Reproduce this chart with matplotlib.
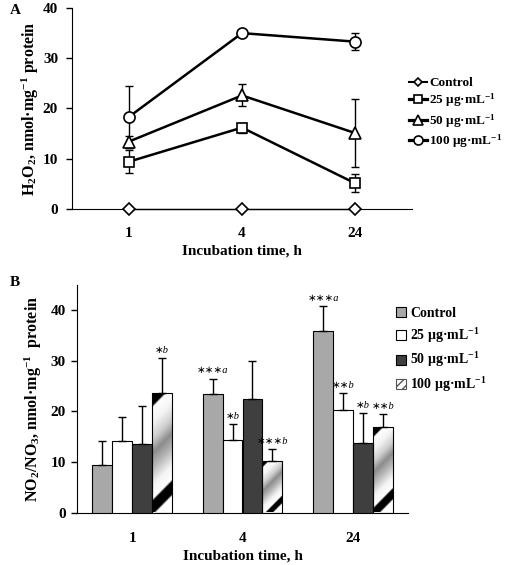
import matplotlib
matplotlib.use('Agg')
import matplotlib.pyplot as plt
import numpy as np
from matplotlib.lines import Line2D
from matplotlib.patches import Patch
from matplotlib.colors import LinearSegmentedColormap

plt.rcParams['font.family'] = ['Liberation Serif', 'DejaVu Serif']
plt.rcParams['font.weight'] = 'bold'
plt.rcParams['mathtext.default'] = 'regular'

# ---------------- data ----------------
times = ['1', '4', '24']
series_labels = ['Control', '25 μg·mL$^{-1}$', '50 μg·mL$^{-1}$', '100 μg·mL$^{-1}$']

# Panel A: H2O2
h2o2_control = [0.0, 0.0, 0.0]
h2o2_control_err = [0.0, 0.0, 0.0]
h2o2_25 = [9.4, 16.2, 5.1]
h2o2_25_err = [2.3, 1.0, 1.8]
h2o2_50 = [13.4, 22.6, 15.1]
h2o2_50_err = [1.2, 2.2, 6.7]
h2o2_100 = [18.3, 35.0, 33.3]
h2o2_100_err = [6.2, 0.3, 1.7]

# Panel B: NO2/NO3
no_control = [9.4, 23.4, 36.0]
no_control_err = [4.7, 3.1, 4.8]
no_25 = [14.1, 14.4, 20.3]
no_25_err = [4.8, 3.1, 3.3]
no_50 = [13.6, 22.5, 13.8]
no_50_err = [7.4, 7.5, 5.8]
no_100 = [23.6, 10.2, 16.9]
no_100_err = [7.0, 2.3, 2.5]

no_control_sig = ['', '∗∗∗a', '∗∗∗a']
no_25_sig = ['', '∗b', '∗∗b']
no_50_sig = ['', '', '∗b']
no_100_sig = ['∗b', '∗∗∗b', '∗∗b']

# ---------------- figure ----------------
W, H = 505, 565
fig = plt.figure(figsize=(W / 100, H / 100), dpi=100)

def fax(l, t, r, b):
    return fig.add_axes([l / W, 1 - b / H, (r - l) / W, (b - t) / H])

FS = 11

# ---------- Panel A ----------
axA = fax(72, 8, 412, 209)
x = np.arange(len(times))
a_series = [(h2o2_control, h2o2_control_err, 'D', 6, 1.0),
            (h2o2_25, h2o2_25_err, 's', 7.5, 1.8),
            (h2o2_50, h2o2_50_err, '^', 8.5, 1.8),
            (h2o2_100, h2o2_100_err, 'o', 8, 1.8)]
handlesA = []
for (vals, errs, mk, ms, lw), lab in zip(a_series, series_labels):
    axA.errorbar(x, vals, yerr=errs, fmt='none', ecolor='black', elinewidth=1.0,
                 capsize=3, capthick=1.0, zorder=2, clip_on=False)
    axA.plot(x, vals, '-', color='black', lw=lw, marker=mk, ms=ms,
             mfc='white', mec='black', mew=1.2, zorder=3, clip_on=False)
    handlesA.append(Line2D([0], [0], color='black', lw=lw + 0.5, marker=mk, ms=ms - 1.5,
                           mfc='white', mec='black', mew=1.2))
axA.set_xlim(-0.5, 2.5)
axA.set_ylim(0, 40)
axA.set_yticks([0, 10, 20, 30, 40])
axA.set_xticks(x)
axA.set_xticklabels(times)
axA.spines['top'].set_visible(False)
axA.spines['right'].set_visible(False)
axA.tick_params(axis='y', direction='out', length=4, width=1, pad=6, labelsize=FS)
axA.tick_params(axis='x', length=0, pad=13, labelsize=FS)
axA.set_xlabel('Incubation time, h', fontsize=FS, fontweight='bold', labelpad=3)
axA.set_ylabel('H$_2$O$_2$, nmol·mg$^{-1}$ protein', fontsize=11.5, fontweight='bold')
axA.yaxis.set_label_coords(-0.09, 0.5)
legA = axA.legend(handlesA, series_labels, loc='upper left',
                  bbox_to_anchor=(409 / W, 1 - 77 / H), bbox_transform=fig.transFigure,
                  frameon=False, fontsize=9.5, handlelength=1.4, handletextpad=0.15,
                  labelspacing=0.2, borderpad=0, borderaxespad=0)
fig.text(10 / W, 1 - 11 / H, 'A', fontsize=11, fontweight='bold', va='center', ha='left')

# ---------- Panel B ----------
axB = fax(77, 285, 408, 512.5)
axB.set_xlim(-0.5, 2.5)
axB.set_ylim(0, 45)
bw = 0.18
offsets = [-1.5 * bw, -0.5 * bw, 0.5 * bw, 1.5 * bw]
b_series = [(no_control, no_control_err, no_control_sig, '#a8a8a8'),
            (no_25, no_25_err, no_25_sig, 'white'),
            (no_50, no_50_err, no_50_sig, '#3f3f3f'),
            (no_100, no_100_err, no_100_sig, 'none')]

cm = LinearSegmentedColormap.from_list('metal', [
    (0.00, 'white'), (0.11, 'white'), (0.125, 'black'), (0.215, 'black'),
    (0.23, 'white'), (0.33, '#f4f4f4'), (0.46, '#b5b5b5'), (0.56, '#8c8c8c'),
    (0.66, '#cdcdcd'), (0.78, '#f4f4f4'), (0.89, 'white'), (0.905, 'black'),
    (1.00, 'black')])

def gradient_fill(ax, bar):
    x0 = bar.get_x(); w = bar.get_width(); h = bar.get_height()
    p0 = ax.transData.transform((x0, 0))
    p1 = ax.transData.transform((x0 + w, h))
    Wp = p1[0] - p0[0]; Hp = p1[1] - p0[1]
    X = np.linspace(0, Wp, 60)[None, :]
    Y = np.linspace(0, Hp, 400)[:, None]
    t = (Y - X + Wp) / (Hp + Wp)
    im = ax.imshow(t, cmap=cm, extent=[x0, x0 + w, 0, h], origin='lower',
                   aspect='auto', vmin=0, vmax=1, interpolation='bilinear', zorder=2)
    im.set_clip_path(bar)

for i, (vals, errs, sigs, col) in enumerate(b_series):
    xs = x + offsets[i]
    bars = axB.bar(xs, vals, width=bw, color=col, edgecolor='black', linewidth=0.8, zorder=3)
    if col == 'none':
        for b in bars:
            gradient_fill(axB, b)
    axB.errorbar(xs, vals, yerr=[np.zeros(len(vals)), errs], fmt='none', ecolor='black',
                 elinewidth=1.0, capsize=3, capthick=1.0, zorder=4)
    for xi, v, e, s in zip(xs, vals, errs, sigs):
        if s:
            axB.text(xi, v + e + 0.6, s, ha='center', va='bottom', fontsize=7.5,
                     fontstyle='italic', fontweight='normal',
                     family=['Liberation Serif', 'DejaVu Sans'])
axB.set_xlim(-0.5, 2.5)
axB.set_ylim(0, 45)
axB.set_yticks([0, 10, 20, 30, 40])
axB.set_xticks(x)
axB.set_xticklabels(times)
axB.spines['top'].set_visible(False)
axB.spines['right'].set_visible(False)
axB.tick_params(axis='y', direction='out', length=4, width=1, pad=4, labelsize=FS)
axB.tick_params(axis='x', length=0, pad=14, labelsize=FS)
axB.set_xlabel('Incubation time, h', fontsize=FS, fontweight='bold', labelpad=3)
axB.set_ylabel('NO$_2$/NO$_3$, nmol·mg$^{-1}$  protein', fontsize=11.5, fontweight='bold')
axB.yaxis.set_label_coords(-0.10, 0.5)
handlesB = [Patch(facecolor='#a8a8a8', edgecolor='black', linewidth=0.8),
            Patch(facecolor='white', edgecolor='black', linewidth=0.8),
            Patch(facecolor='#3f3f3f', edgecolor='black', linewidth=0.8),
            Patch(facecolor='white', edgecolor='#555555', linewidth=0.8, hatch='////')]
legB = axB.legend(handlesB, series_labels, loc='upper left',
                  bbox_to_anchor=(396 / W, 1 - 307 / H), bbox_transform=fig.transFigure,
                  frameon=False, fontsize=10, handlelength=0.75, handleheight=0.75,
                  handletextpad=0.25, labelspacing=0.42, borderpad=0, borderaxespad=0)
fig.text(10 / W, 1 - 283 / H, 'B', fontsize=11, fontweight='bold', va='center', ha='left')

fig.savefig('out.png', dpi=100)
